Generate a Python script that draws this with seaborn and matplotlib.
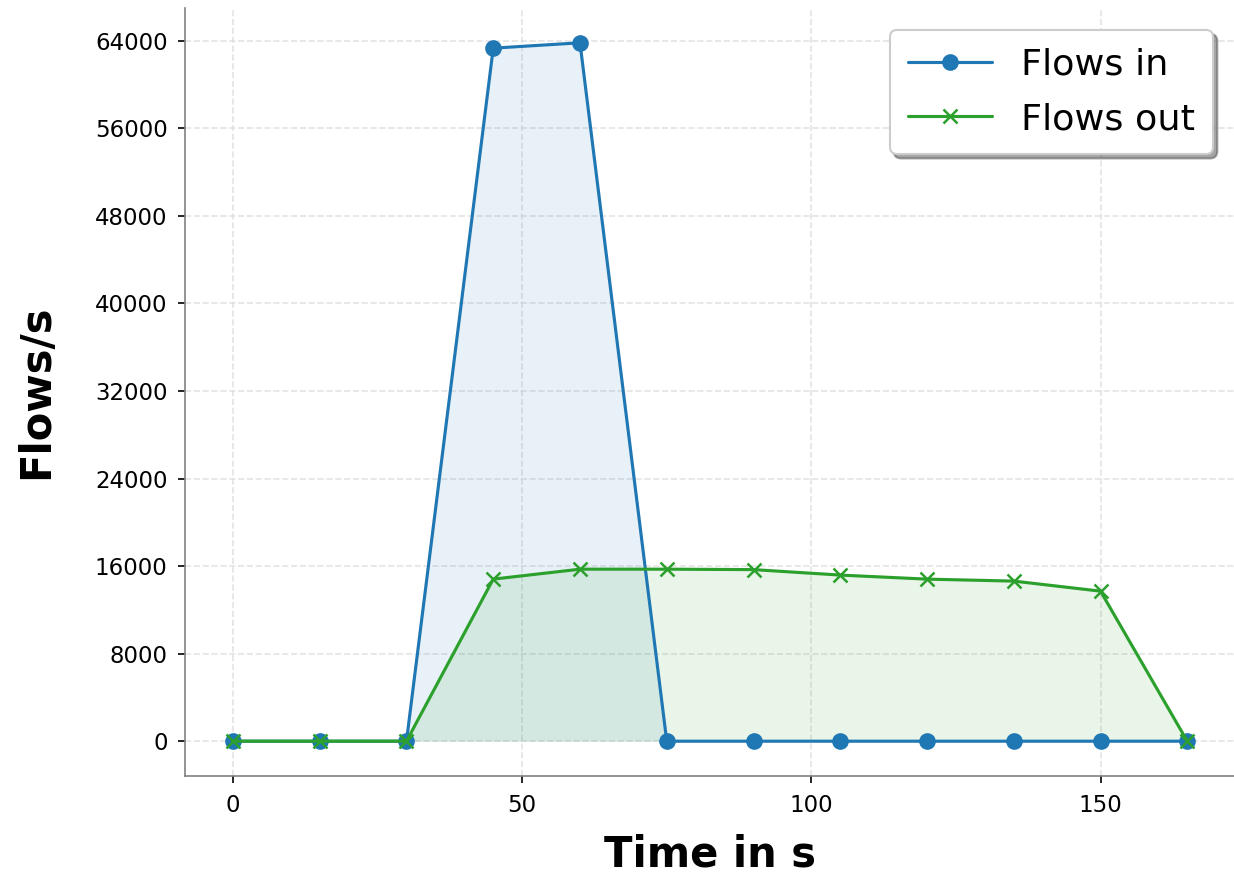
import numpy as np
import pandas as pd
import matplotlib
matplotlib.use("Agg")
import matplotlib.pyplot as plt
import seaborn as sns

# values
time_s = [0, 15, 30, 45, 60, 75, 90, 105, 120, 135, 150, 165]
flows_in = [0, 0, 0, 63330, 63820, 0, 0, 0, 0, 0, 0, 0]
flows_out = [0, 0, 0, 14810, 15720, 15720, 15680, 15180, 14810, 14630, 13710, 0]
x_ticks = [0, 50, 100, 150]
y_ticks = [0, 8000, 16000, 24000, 32000, 40000, 48000, 56000, 64000]

blue = "#1f77b4"
green = "#2ca02c"

sns.set_style("ticks")
plt.rcParams['font.family'] = ['DejaVu Sans']
plt.rcParams['text.color'] = 'black'
plt.rcParams['axes.labelcolor'] = 'black'
plt.rcParams['xtick.color'] = 'black'
plt.rcParams['ytick.color'] = 'black'

fig, ax = plt.subplots(figsize=(1235 / 150, 875 / 150), dpi=150)
fig.subplots_adjust(left=0.15, right=1.0, bottom=0.113, top=0.991)

df = pd.DataFrame({'time': time_s, 'in': flows_in, 'out': flows_out})

sns.lineplot(data=df, x='time', y='in', ax=ax, color=blue, marker='o',
             markersize=8, mec=blue, mew=0, linewidth=1.5, label='Flows in')
ax.fill_between(df['time'], df['in'], color=blue, alpha=0.1, linewidth=0)
sns.lineplot(data=df, x='time', y='out', ax=ax, color=green, marker='x',
             markersize=7, mec=green, mew=1.2, linewidth=1.5, label='Flows out')
ax.fill_between(df['time'], df['out'], color=green, alpha=0.1, linewidth=0)

ax.set_xticks(x_ticks)
ax.set_yticks(y_ticks)
ax.tick_params(labelsize=11, pad=5)
ax.grid(True, linestyle='--', color='#dddddd', linewidth=0.8, alpha=0.8)
ax.set_axisbelow(True)

for side in ['top', 'right']:
    ax.spines[side].set_visible(False)
for side in ['left', 'bottom']:
    ax.spines[side].set_color('gray')

ax.set_xlabel('Time in s', fontsize=20, fontweight='bold', labelpad=8)
ax.set_ylabel('Flows/s', fontsize=20, fontweight='bold', labelpad=18)

ax.legend(loc='upper right', fontsize=17.5, frameon=True, fancybox=True,
          shadow=True, framealpha=1, handlelength=2.3, borderpad=0.5,
          labelspacing=0.55, borderaxespad=0.6)

fig.savefig('out.png', dpi=150)
